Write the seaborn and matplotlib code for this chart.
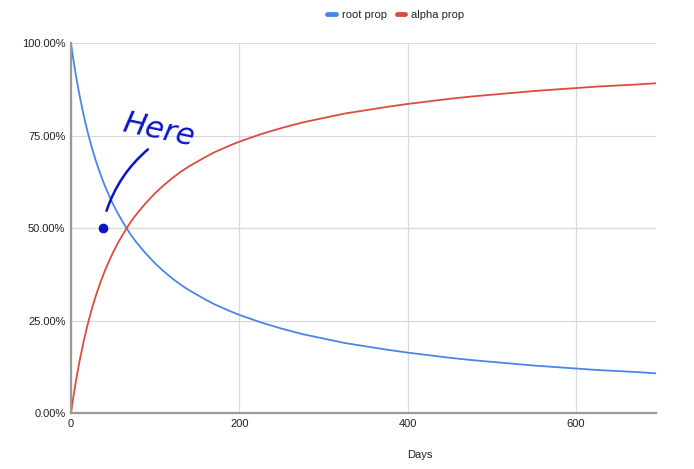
import matplotlib
matplotlib.use("Agg")
import matplotlib.pyplot as plt
import numpy as np
import pandas as pd
import seaborn as sns

# values
days = [0, 1, 2, 3, 5, 7, 10, 15, 20, 25, 30, 35, 40, 45, 50,
        55, 60, 65, 70, 75, 80, 85, 90,
        100, 110, 120, 130, 140, 150, 160, 170, 180, 190, 200,
        225, 250, 275, 300, 325, 350, 375, 400,
        425, 450, 475, 500, 525, 550, 575, 600,
        625, 650, 675, 695]
root_prop = [1.000, 0.984, 0.968, 0.953, 0.925, 0.898, 0.861, 0.806, 0.758, 0.716,
             0.679, 0.646, 0.616, 0.590, 0.565,
             0.543, 0.523, 0.504, 0.486, 0.470, 0.456, 0.442, 0.429,
             0.405, 0.384, 0.365, 0.348, 0.333, 0.320, 0.307, 0.295, 0.285, 0.275, 0.266,
             0.246, 0.229, 0.214, 0.202, 0.190, 0.181, 0.172, 0.164,
             0.157, 0.150, 0.144, 0.139, 0.134, 0.129, 0.125, 0.121,
             0.117, 0.114, 0.111, 0.108]
alpha_prop = [0.000, 0.016, 0.032, 0.047, 0.075, 0.102, 0.139, 0.194, 0.242, 0.284,
              0.321, 0.354, 0.384, 0.410, 0.435,
              0.457, 0.477, 0.496, 0.514, 0.530, 0.544, 0.558, 0.571,
              0.595, 0.616, 0.635, 0.652, 0.667, 0.680, 0.693, 0.705, 0.715, 0.725, 0.734,
              0.754, 0.771, 0.786, 0.798, 0.810, 0.819, 0.828, 0.836,
              0.843, 0.850, 0.856, 0.861, 0.866, 0.871, 0.875, 0.879,
              0.883, 0.886, 0.889, 0.892]
series_names = ["root prop", "alpha prop"]
x_ticks = [0, 200, 400, 600]
y_ticks = [0.0, 0.25, 0.5, 0.75, 1.0]
y_tick_labels = ["0.00%", "25.00%", "50.00%", "75.00%", "100.00%"]

df = pd.DataFrame({
    "Days": days * 2,
    "value": root_prop + alpha_prop,
    "series": [series_names[0]] * len(days) + [series_names[1]] * len(days),
})

sns.set_theme(style="white")
plt.rcParams["font.family"] = ["Liberation Sans", "DejaVu Sans"]

fig = plt.figure(figsize=(6.94, 4.69), dpi=100)
ax = fig.add_axes([0.1023, 0.1188, 0.8429, 0.7889])

palette = {"root prop": "#4a86e8", "alpha prop": "#db4c3f"}
sns.lineplot(data=df, x="Days", y="value", hue="series", palette=palette,
             linewidth=1.3, ax=ax, solid_joinstyle="round")

ax.set_xlim(0, 695)
ax.set_ylim(0, 1.0)
ax.set_xticks(x_ticks)
ax.set_xticklabels([str(t) for t in x_ticks])
ax.set_yticks(y_ticks)
ax.set_yticklabels(y_tick_labels)
ax.tick_params(axis="both", labelsize=8, colors="#222222", length=0, pad=4)
ax.grid(True, color="#d9d9d9", linewidth=0.9)
ax.set_axisbelow(True)
for side in ["top", "right"]:
    ax.spines[side].set_visible(False)
for side in ["left", "bottom"]:
    ax.spines[side].set_color("#999999")
    ax.spines[side].set_linewidth(1.6)

ax.set_ylabel("")
ax.set_xlabel("Days", fontsize=8, color="#222222")
ax.xaxis.set_label_coords(0.597, -0.098)

# legend at the top, Google Sheets style
leg = ax.legend(loc="center", bbox_to_anchor=(0.570, 0.968),
                bbox_transform=fig.transFigure, ncol=2, frameon=False,
                fontsize=8, handlelength=0.8, handletextpad=0.5,
                columnspacing=0.9)
for line in leg.get_lines():
    line.set_linewidth(3.5)
for txt in leg.get_texts():
    txt.set_color("#222222")

# the hand drawn "Here" note
pen = "#0a14c8"
ax.plot([38.4], [0.502], marker="o", markersize=6, color=pen)
ax.annotate("", xy=(41.2, 0.54), xytext=(93.9, 0.718),
            arrowprops=dict(arrowstyle="-", color=pen, linewidth=1.8,
                            connectionstyle="arc3,rad=0.15"))
ax.text(104, 0.765, "Here", color=pen, fontsize=22, style="italic",
        rotation=-12, ha="center", va="center", family=["DejaVu Sans"],
        fontweight="light")

fig.savefig("out.png", dpi=100)
